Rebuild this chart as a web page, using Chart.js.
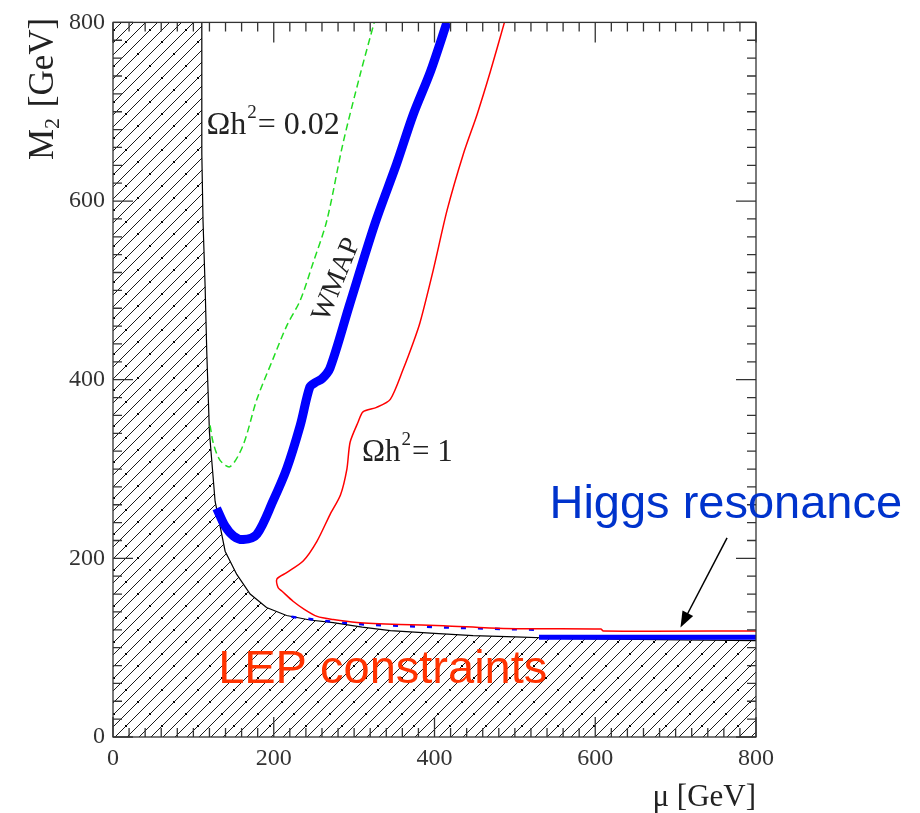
<!DOCTYPE html>
<html>
<head>
<meta charset="utf-8">
<script src="https://cdn.jsdelivr.net/npm/chart.js@4.4.1/dist/chart.umd.min.js"></script>
<style>
  html, body { margin: 0; padding: 0; background: #fff; }
  canvas { display: block; }
</style>
</head>
<body>
<canvas id="relicChart" width="920" height="813"></canvas>
<script>
// LEP excluded region boundary (mu, M2) in GeV
const lepMu = [0, 110.5, 110.5, 112, 114.6, 116.7, 120, 127, 139.5, 154, 170.6, 191, 216, 245, 274, 310, 345, 400, 448, 500, 569, 680, 800];
const lepM2 = [800, 800, 653, 578, 505, 430, 341, 264, 208, 182, 160, 145, 136, 131, 128, 123, 119, 116, 113.5, 112, 110, 109, 108];

// Omega h^2 = 0.02 contour (green dashed)
const lowMu = [120.8, 124.5, 133, 145.7, 162, 179, 199, 216, 233, 249, 266, 286, 307.6, 325];
const lowM2 = [349, 330, 310, 302.6, 327, 378, 423, 460, 489, 531, 578, 664, 742, 800];

// WMAP band (thick blue)
const wmapMu = [129, 139.5, 150, 162, 179, 199, 216, 233, 245, 252, 260, 270, 294, 326, 353, 373.6, 395, 415.5];
const wmapM2 = [256, 236, 225, 221, 227, 264, 300, 349, 392, 397, 401, 413, 483, 575, 642, 697, 745, 800];

// WMAP band along the LEP edge + Higgs resonance strip
const edgeMu = [222, 280, 316, 354, 407, 482, 528];
const edgeM2 = [134.5, 128.3, 125.7, 124.6, 122.7, 121, 120];
const higgsMu = [530, 800];
const higgsM2 = [111.6, 111.6];

// Omega h^2 = 1 contour (red)
const highMu = [487, 469.5, 453, 436, 415.6, 398.5, 382, 373.6, 361, 345, 328, 311, 305, 295, 291, 283, 270, 253.7, 236.6, 216, 204, 205.5, 210, 224, 238, 254, 274, 303.5, 357, 411, 485.7, 607, 610, 800];
const highM2 = [800, 745, 697, 653, 589.5, 523, 464, 441.6, 411.6, 378, 369, 364, 352.6, 330, 300, 271, 249, 219, 197, 184, 177, 167, 163.5, 152, 143, 135, 131.5, 128.3, 126, 124.6, 121.5, 121, 118.7, 118.7];

const axisTicks = [0, 200, 400, 600, 800];

function pairs(xs, ys) {
    return xs.map((v, i) => ({ x: v, y: ys[i] }));
}

const canvas = document.getElementById('relicChart');
const ctx = canvas.getContext('2d');

// diagonal hatching for the excluded area (with the little dots ROOT leaves on it)
const tile = document.createElement('canvas');
tile.width = 36;
tile.height = 36;
const tctx = tile.getContext('2d');
tctx.strokeStyle = '#1a1a1a';
tctx.lineWidth = 1;
tctx.beginPath();
for (let k = -36; k <= 72; k += 12) {
    tctx.moveTo(k, 36);
    tctx.lineTo(k + 36, 0);
}
tctx.stroke();
tctx.fillStyle = '#000';
[[6, 30], [18, 6], [30, 18]].forEach(([dx, dy]) => {
    tctx.fillRect(dx - 1, dy - 1, 2, 2);
});
const hatch = ctx.createPattern(tile, 'repeat');

const serif = '"Liberation Serif", "Times New Roman", serif';
const sans = '"Liberation Sans", Arial, sans-serif';

function omegaLabel(c, x0, y0, size, rest) {
    c.font = size + 'px ' + serif;
    c.fillText('Ωh', x0, y0);
    let w = c.measureText('Ωh').width + 1;
    c.font = Math.round(size * 0.6) + 'px ' + serif;
    c.fillText('2', x0 + w, y0 - size * 0.5);
    w += c.measureText('2').width + 1;
    c.font = size + 'px ' + serif;
    c.fillText(rest, x0 + w, y0);
}

const overlay = {
    id: 'overlay',
    afterDraw(chart) {
        const c = chart.ctx;
        const a = chart.chartArea;
        const xs = chart.scales.x, ys = chart.scales.y;
        c.save();

        // frame with inward ticks on all four sides
        c.strokeStyle = '#333';
        c.lineWidth = 1.3;
        c.strokeRect(a.left, a.top, a.right - a.left, a.bottom - a.top);
        c.beginPath();
        for (let v = 0; v <= 800; v += 20) {
            const len = v % 200 === 0 ? 20 : 9;
            const px = xs.getPixelForValue(v), py = ys.getPixelForValue(v);
            c.moveTo(px, a.bottom); c.lineTo(px, a.bottom - len);
            c.moveTo(px, a.top); c.lineTo(px, a.top + len);
            c.moveTo(a.left, py); c.lineTo(a.left + len, py);
            c.moveTo(a.right, py); c.lineTo(a.right - len, py);
        }
        c.stroke();

        // y axis title with subscript
        c.fillStyle = '#222';
        c.textBaseline = 'alphabetic';
        c.textAlign = 'left';
        c.translate(53, 160);
        c.rotate(-Math.PI / 2);
        c.font = '35px ' + serif;
        c.fillText('M', 0, 0);
        let w = c.measureText('M').width;
        c.font = '22px ' + serif;
        c.fillText('2', w, 6);
        w += c.measureText('2').width + 2;
        c.font = '35px ' + serif;
        c.fillText(' [GeV]', w, 0);
        c.setTransform(1, 0, 0, 1, 0, 0);

        // contour labels
        c.fillStyle = '#222';
        omegaLabel(c, xs.getPixelForValue(116.2), ys.getPixelForValue(675), 32, '= 0.02');
        omegaLabel(c, xs.getPixelForValue(309.7), ys.getPixelForValue(309), 31, '= 1');

        c.save();
        c.translate(xs.getPixelForValue(278.5), ys.getPixelForValue(512));
        c.rotate(-68 * Math.PI / 180);
        c.font = '28px ' + serif;
        c.textAlign = 'center';
        c.textBaseline = 'middle';
        c.fillText('WMAP', 0, 0);
        c.restore();

        c.font = '47px ' + sans;
        c.fillStyle = '#0033cc';
        c.fillText('Higgs resonance', xs.getPixelForValue(543), ys.getPixelForValue(244.7));
        c.fillStyle = '#ff3300';
        c.fillText('LEP constraints', xs.getPixelForValue(130.8), ys.getPixelForValue(60));

        // arrow to the resonance strip
        const x0 = xs.getPixelForValue(764), y0 = ys.getPixelForValue(223);
        const x1 = xs.getPixelForValue(706), y1 = ys.getPixelForValue(122.7);
        const ang = Math.atan2(y1 - y0, x1 - x0);
        c.strokeStyle = '#000';
        c.fillStyle = '#000';
        c.lineWidth = 1.5;
        c.beginPath();
        c.moveTo(x0, y0);
        c.lineTo(x1 - 12 * Math.cos(ang), y1 - 12 * Math.sin(ang));
        c.stroke();
        c.beginPath();
        c.moveTo(x1, y1);
        c.lineTo(x1 - 16 * Math.cos(ang) + 6 * Math.sin(ang), y1 - 16 * Math.sin(ang) - 6 * Math.cos(ang));
        c.lineTo(x1 - 16 * Math.cos(ang) - 6 * Math.sin(ang), y1 - 16 * Math.sin(ang) + 6 * Math.cos(ang));
        c.closePath();
        c.fill();

        c.restore();
    }
};

const relicChart = new Chart(ctx, {
    type: 'line',
    data: {
        datasets: [{
            label: 'Omega h2 = 0.02',
            data: pairs(lowMu, lowM2),
            borderColor: '#22dd22',
            borderWidth: 1.5,
            borderDash: [7, 4],
            tension: 0.3,
            pointRadius: 0,
            fill: false,
            order: 1
        }, {
            label: 'Omega h2 = 1',
            data: pairs(highMu, highM2),
            borderColor: '#ff0000',
            borderWidth: 1.5,
            tension: 0.25,
            pointRadius: 0,
            fill: false,
            order: 2
        }, {
            label: 'WMAP',
            data: pairs(wmapMu, wmapM2),
            borderColor: '#0000ff',
            borderWidth: 9,
            tension: 0.3,
            pointRadius: 0,
            fill: false,
            order: 3
        }, {
            label: 'WMAP edge',
            data: pairs(edgeMu, edgeM2),
            borderColor: '#0000ff',
            borderWidth: 2.5,
            borderDash: [5, 12],
            pointRadius: 0,
            fill: false,
            order: 3
        }, {
            label: 'Higgs resonance',
            data: pairs(higgsMu, higgsM2),
            borderColor: '#0000ff',
            borderWidth: 5,
            pointRadius: 0,
            fill: false,
            order: 3
        }, {
            label: 'LEP',
            data: pairs(lepMu, lepM2),
            borderColor: '#000',
            borderWidth: 1.2,
            backgroundColor: hatch,
            pointRadius: 0,
            fill: 'origin',
            order: 5
        }]
    },
    options: {
        responsive: false,
        animation: false,
        devicePixelRatio: 1,
        layout: { padding: { left: 0, top: 18, right: 164, bottom: 0 } },
        plugins: { legend: { display: false }, tooltip: { enabled: false } },
        scales: {
            x: {
                type: 'linear',
                min: 0,
                max: 800,
                afterFit: (scale) => { scale.height = 76; },
                afterBuildTicks: (scale) => { scale.ticks = axisTicks.map(v => ({ value: v })); },
                grid: { display: false, drawTicks: false },
                border: { display: false },
                ticks: {
                    font: { family: serif, size: 24 },
                    color: '#333',
                    padding: 7,
                    maxRotation: 0
                },
                title: {
                    display: true,
                    text: 'μ [GeV]',
                    align: 'end',
                    color: '#222',
                    font: { family: serif, size: 31, lineHeight: 1 },
                    padding: { top: 0, bottom: 0 }
                }
            },
            y: {
                min: 0,
                max: 800,
                afterFit: (scale) => { scale.width = 113; },
                afterBuildTicks: (scale) => { scale.ticks = axisTicks.map(v => ({ value: v })); },
                grid: { display: false, drawTicks: false },
                border: { display: false },
                ticks: {
                    font: { family: serif, size: 24 },
                    color: '#333',
                    padding: 8
                }
            }
        }
    },
    plugins: [overlay]
});
</script>
</body>
</html>
